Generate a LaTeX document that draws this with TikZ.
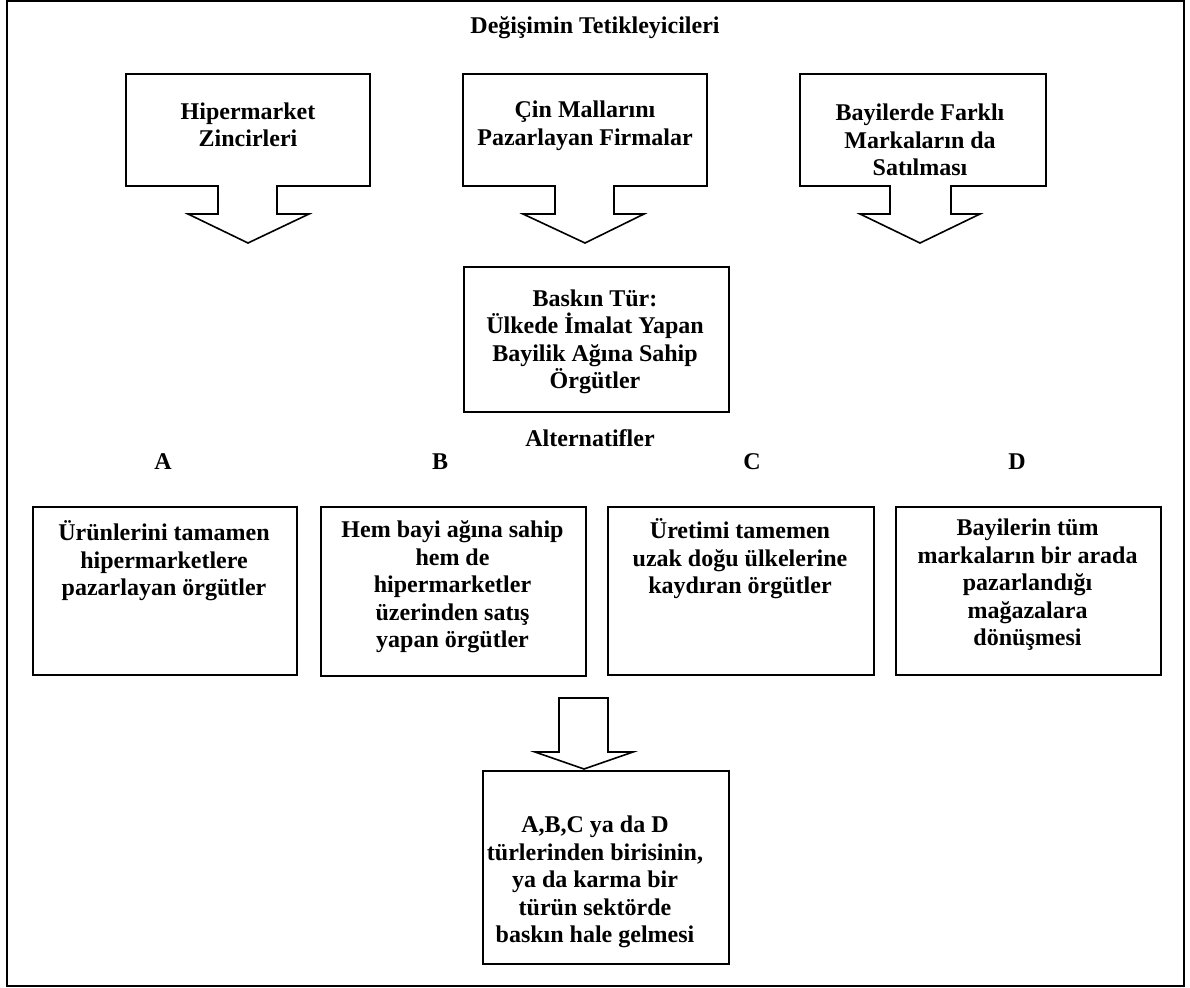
\documentclass[tikz,border=0pt]{standalone}
\usepackage{fontspec}
\setmainfont{Liberation Serif}
\begin{document}
\begin{tikzpicture}[x=1pt,y=-1pt,
  txt/.style={font=\fontsize{24}{27.5}\selectfont\bfseries, align=center, inner sep=0pt},
  boxshape/.style={draw, line width=1.6pt, inner sep=0pt, anchor=north west},
  blockarrow/.style={draw, line width=1.6pt, line join=miter}]
\useasboundingbox (0,0) rectangle (1190,987);
\draw[line width=2.2pt] (7,1) rectangle (1184,986);

\node[txt] (title) at (595,28) {Değişimin Tetikleyicileri};

% trigger callouts
\draw[blockarrow] (126,74) -- (370,74) -- (370,186) -- (277,186) -- (277,214) -- (309,214) -- (248,243) -- (188,214) -- (218,214) -- (218,186) -- (126,186) -- cycle;
\draw[blockarrow] (463,74) -- (707,74) -- (707,186) -- (614,186) -- (614,214) -- (644,214) -- (585,243) -- (523,214) -- (555,214) -- (555,186) -- (463,186) -- cycle;
\draw[blockarrow] (800,74) -- (1046,74) -- (1046,186) -- (951,186) -- (951,214) -- (980,214) -- (920,243) -- (860,214) -- (890,214) -- (890,186) -- (800,186) -- cycle;

\node[txt] (t1) at (248,125) {Hipermarket\\Zincirleri};
\node[txt] (t2) at (585,126) {Çin Mallarını\\Pazarlayan Firmalar};
\node[txt] (t3) at (920,140) {Bayilerde Farklı\\Markaların da\\Satılması};

% dominant type
\node[boxshape, minimum width=265pt, minimum height=145pt] (dom) at (463,266) {};
\node[txt] (domtxt) at (595,342) {Baskın Tür:\\Ülkede İmalat Yapan\\Bayilik Ağına Sahip\\Örgütler};

\node[txt] (alt) at (590,438) {Alternatifler};
\node[txt] (la) at (163,462) {A};
\node[txt] (lb) at (440,462) {B};
\node[txt] (lc) at (752,462) {C};
\node[txt] (ld) at (1017,462) {D};

% alternatives
\node[boxshape, minimum width=264pt, minimum height=168pt] (ba) at (32,506) {};
\node[boxshape, minimum width=265pt, minimum height=169pt] (bb) at (320,506) {};
\node[boxshape, minimum width=266pt, minimum height=168pt] (bc) at (607,506) {};
\node[boxshape, minimum width=265pt, minimum height=168pt] (bd) at (895,506) {};

\node[txt] (ta) at (164,561) {Ürünlerini tamamen\\hipermarketlere\\pazarlayan örgütler};
\node[txt] (tb) at (452.5,587) {Hem bayi ağına sahip\\hem de\\hipermarketler\\üzerinden satış\\yapan örgütler};
\node[txt] (tc) at (740,559) {Üretimi tamemen\\uzak doğu ülkelerine\\kaydıran örgütler};
\node[txt] (td) at (1027.5,585) {Bayilerin tüm\\markaların bir arada\\pazarlandığı\\mağazalara\\dönüşmesi};

% result
\draw[blockarrow] (559,698) -- (608,698) -- (608,752) -- (633,752) -- (584,769) -- (535,752) -- (559,752) -- cycle;
\node[boxshape, minimum width=246pt, minimum height=193pt] (res) at (482,770) {};
\node[txt] (restxt) at (595,882) {A,B,C ya da D\\türlerinden birisinin,\\ya da karma bir\\türün sektörde\\baskın hale gelmesi};
\end{tikzpicture}
\end{document}
